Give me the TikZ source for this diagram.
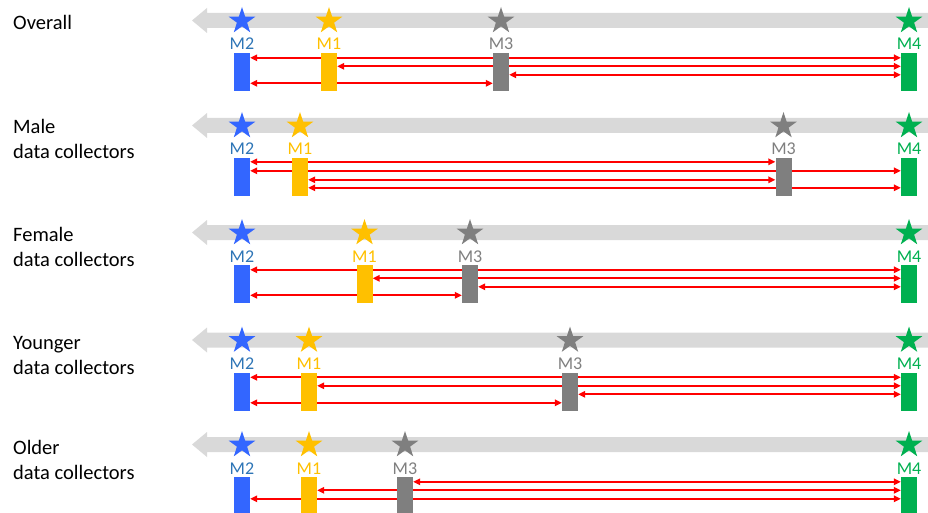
\documentclass[tikz,border=0pt]{standalone}
\usepackage{fontspec}
\setmainfont{Carlito}
\usetikzlibrary{shapes.geometric,arrows.meta}
\pgfdeclarelayer{bg}
\pgfsetlayers{bg,main}
\definecolor{cblue}{HTML}{3366FF}
\definecolor{cbluet}{HTML}{2E75B6}
\definecolor{cgold}{HTML}{FFC000}
\definecolor{cgray}{HTML}{7F7F7F}
\definecolor{cgreen}{HTML}{00B050}
\definecolor{cband}{HTML}{D9D9D9}
\definecolor{cred}{HTML}{FF0000}
\tikzset{
  box/.style={rectangle,inner sep=0pt,minimum width=16pt,minimum height=38pt,fill=#1},
  mstar/.style={star,star points=5,star point ratio=2.618,minimum size=28pt,inner sep=0pt,fill=#1},
  mlab/.style={font=\fontsize{18}{21}\selectfont,anchor=base,text=#1,inner sep=0pt},
  side/.style={font=\fontsize{20.5}{24}\selectfont,anchor=base west,inner sep=0pt},
  link/.style={draw=cred,line width=2.2pt,{Triangle[length=7pt,width=6.5pt]}-{Triangle[length=7pt,width=6.5pt]}},
}
% #1 suffix, #2 vertical offset, #3 x of M1, #4 x of M3
\newcommand\mkpanel[4]{%
  \begin{scope}[yshift=-#2pt]
    \begin{pgfonlayer}{bg}
      \fill[cband] (207,13) -- (928,13) -- (928,28) -- (207,28) -- (207,33) -- (192,20.5) -- (207,8) -- cycle;
    \end{pgfonlayer}
    \node[mstar=cblue]  (s2#1) at (242,21) {};
    \node[mstar=cgold]  (s1#1) at (#3,21) {};
    \node[mstar=cgray]  (s3#1) at (#4,21) {};
    \node[mstar=cgreen] (s4#1) at (909,21) {};
    \node[mlab=cbluet] (l2#1) at (242,50) {M2};
    \node[mlab=cgold]  (l1#1) at (#3,50) {M1};
    \node[mlab=cgray]  (l3#1) at (#4,50) {M3};
    \node[mlab=cgreen] (l4#1) at (909,50) {M4};
    \node[box=cblue]  (b2#1) at (242,72) {};
    \node[box=cgold]  (b1#1) at (#3,72) {};
    \node[box=cgray]  (b3#1) at (#4,72) {};
    \node[box=cgreen] (b4#1) at (909,72) {};
  \end{scope}}
% #1 from node, #2 to node, #3 offset below box top
\newcommand\lnk[3]{\draw[link] ([yshift=-#3pt]#1.north east) -- ([yshift=-#3pt]#2.north west);}
\begin{document}
\begin{tikzpicture}[x=1pt,y=-1pt]
\useasboundingbox (0,0) rectangle (928,513);
\mkpanel{a}{0}{329}{501}
\mkpanel{b}{105}{300}{783.5}
\mkpanel{c}{212}{364.5}{470}
\mkpanel{d}{319.5}{309}{570}
\mkpanel{e}{424}{309}{405}
\node[side] (ta) at (13,30) {Overall};
\node[side] (tb1) at (13,134) {Male};
\node[side] (tb2) at (13,159) {data collectors};
\node[side] (tc1) at (13,241.5) {Female};
\node[side] (tc2) at (13,266.5) {data collectors};
\node[side] (td1) at (13,349) {Younger};
\node[side] (td2) at (13,374) {data collectors};
\node[side] (te1) at (13,454) {Older};
\node[side] (te2) at (13,479) {data collectors};
\begin{pgfonlayer}{bg}
  \lnk{b2a}{b4a}{5} \lnk{b1a}{b4a}{13.5} \lnk{b3a}{b4a}{22} \lnk{b2a}{b3a}{30.5}
  \lnk{b2b}{b3b}{4} \lnk{b2b}{b4b}{13} \lnk{b1b}{b3b}{22} \lnk{b1b}{b4b}{30}
  \lnk{b2c}{b4c}{5} \lnk{b1c}{b4c}{13.5} \lnk{b3c}{b4c}{22} \lnk{b2c}{b3c}{30.5}
  \lnk{b2d}{b4d}{5} \lnk{b1d}{b4d}{13.5} \lnk{b3d}{b4d}{22} \lnk{b2d}{b3d}{30.5}
  \lnk{b3e}{b4e}{5} \lnk{b1e}{b4e}{13.5} \lnk{b2e}{b4e}{22}
\end{pgfonlayer}
\end{tikzpicture}
\end{document}
